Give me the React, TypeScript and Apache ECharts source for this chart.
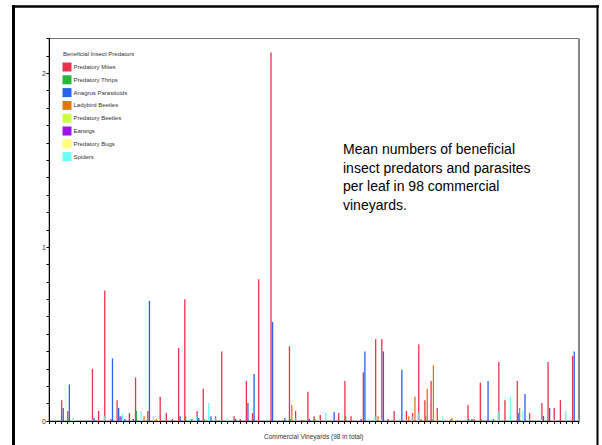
import React, { useEffect, useRef } from 'react';
import * as echarts from 'echarts';

const categories: string[] = Array.from({ length: 86 }, (_, i) => `V${i + 1}`);

const seriesNames = [
  'Predatory Mites',
  'Predatory Thrips',
  'Anagrus Parasitoids',
  'Ladybird Beetles',
  'Predatory Beetles',
  'Earwigs',
  'Predatory Bugs',
  'Spiders',
];

const seriesColors = ['#EE2F4A', '#22B838', '#2463EE', '#E07810', '#C8FF40', '#A010F0', '#FFFF78', '#6CFFF4'];

const predatoryMites = [
  0, 0, 0.12, 0.058, 0, 0, 0, 0.30, 0.058, 0.75,
  0.012, 0.12, 0, 0.046, 0.25, 0, 0.058, 0, 0.14, 0.046,
  0.012, 0.42, 0.70, 0, 0.058, 0.185, 0, 0.027, 0.40, 0,
  0.027, 0.012, 0.23, 0.046, 0.815, 0, 2.12, 0, 0, 0.43,
  0.058, 0.006, 0.168, 0.027, 0.035, 0, 0, 0.046, 0.23, 0.027,
  0, 0.28, 0, 0.47, 0.47, 0.012, 0.058, 0, 0.058, 0.046,
  0.44, 0.12, 0.23, 0.075, 0, 0, 0, 0, 0.092, 0.012,
  0.22, 0, 0, 0.34, 0.12, 0, 0.23, 0, 0.046, 0,
  0.104, 0.34, 0.075, 0.12, 0, 0.375,
];

const predatoryThrips = [
  0, 0, 0, 0.008, 0, 0, 0, 0, 0, 0,
  0, 0, 0, 0, 0.058, 0, 0, 0, 0, 0,
  0, 0, 0.027, 0.012, 0, 0.012, 0, 0, 0, 0,
  0, 0, 0, 0.012, 0, 0, 0.012, 0, 0, 0.012,
  0, 0, 0, 0.012, 0, 0, 0, 0, 0.027, 0,
  0, 0, 0, 0, 0, 0, 0, 0, 0, 0,
  0, 0.027, 0.012, 0, 0, 0, 0, 0, 0.012, 0,
  0.012, 0, 0.012, 0, 0, 0, 0, 0, 0, 0,
  0, 0, 0, 0, 0, 0,
];

const anagrusParasitoids = [
  0, 0, 0.075, 0.21, 0, 0, 0, 0.017, 0, 0,
  0.36, 0.075, 0.012, 0, 0, 0, 0.69, 0, 0, 0,
  0, 0.027, 0, 0, 0.017, 0, 0.027, 0, 0, 0,
  0.012, 0, 0.104, 0.27, 0, 0, 0.57, 0, 0.017, 0,
  0, 0, 0.012, 0, 0, 0, 0.052, 0, 0, 0,
  0, 0.40, 0, 0, 0.40, 0, 0, 0.295, 0, 0,
  0, 0, 0, 0, 0, 0.012, 0, 0, 0, 0,
  0, 0.23, 0, 0, 0, 0, 0.046, 0.156, 0, 0,
  0.029, 0.075, 0, 0, 0, 0.40,
];

const ladybirdBeetles = [
  0, 0, 0, 0, 0, 0, 0, 0, 0, 0,
  0, 0.027, 0, 0, 0, 0.027, 0, 0.012, 0, 0,
  0, 0, 0, 0, 0, 0, 0, 0, 0, 0,
  0, 0, 0, 0, 0, 0, 0, 0, 0, 0.092,
  0, 0.006, 0, 0, 0, 0, 0, 0, 0, 0,
  0, 0, 0, 0.027, 0, 0, 0, 0, 0.027, 0.14,
  0.012, 0.185, 0.32, 0, 0, 0.017, 0, 0, 0, 0,
  0, 0, 0, 0, 0, 0, 0.075, 0, 0, 0,
  0, 0, 0, 0, 0, 0,
];

const predatoryBeetles = [
  0, 0, 0, 0.006, 0, 0, 0, 0, 0, 0,
  0, 0, 0, 0, 0, 0, 0, 0, 0, 0,
  0, 0, 0, 0, 0, 0, 0, 0, 0, 0,
  0, 0, 0, 0, 0, 0, 0, 0, 0, 0,
  0, 0, 0, 0.012, 0, 0, 0, 0, 0, 0,
  0, 0, 0, 0, 0, 0, 0, 0, 0, 0,
  0, 0, 0, 0, 0, 0, 0, 0, 0, 0,
  0, 0, 0, 0, 0, 0, 0, 0, 0, 0,
  0, 0, 0, 0, 0, 0,
];

const earwigs = [
  0, 0, 0, 0, 0, 0, 0, 0, 0, 0,
  0, 0.027, 0, 0.012, 0, 0, 0, 0, 0, 0,
  0, 0, 0, 0, 0, 0, 0, 0, 0, 0,
  0, 0, 0, 0, 0, 0, 0, 0, 0, 0,
  0, 0, 0, 0, 0, 0, 0, 0, 0, 0,
  0.012, 0, 0, 0, 0, 0, 0, 0, 0, 0,
  0, 0, 0, 0, 0, 0, 0, 0, 0.012, 0,
  0, 0, 0, 0, 0, 0, 0, 0, 0, 0,
  0, 0, 0, 0, 0, 0,
];

const predatoryBugs = [
  0, 0, 0, 0, 0, 0, 0, 0, 0, 0,
  0, 0, 0, 0, 0, 0, 0, 0.012, 0, 0,
  0, 0, 0, 0.012, 0, 0, 0, 0, 0, 0,
  0, 0, 0, 0, 0, 0, 0, 0, 0, 0,
  0, 0, 0, 0, 0, 0, 0, 0, 0, 0,
  0, 0, 0, 0, 0, 0, 0, 0, 0, 0,
  0, 0, 0.046, 0, 0.012, 0.012, 0, 0, 0, 0,
  0, 0, 0, 0, 0, 0, 0, 0, 0, 0,
  0, 0, 0, 0, 0, 0,
];

const spiders = [
  0.012, 0, 0, 0.017, 0, 0, 0.012, 0, 0.027, 0,
  0, 0.046, 0, 0, 0.058, 0, 0.027, 0, 0, 0,
  0, 0, 0.012, 0.027, 0, 0.104, 0.017, 0, 0.012, 0,
  0, 0, 0, 0, 0, 0, 0, 0, 0, 0.017,
  0, 0, 0, 0.006, 0.046, 0, 0, 0, 0, 0,
  0, 0.012, 0.027, 0.012, 0, 0, 0.012, 0.012, 0.027, 0.046,
  0, 0, 0, 0.027, 0, 0, 0, 0, 0, 0,
  0, 0.012, 0.058, 0, 0.14, 0, 0.058, 0.012, 0, 0.012,
  0, 0.012, 0, 0.058, 0, 0.012,
];

const seriesData = [
  predatoryMites,
  predatoryThrips,
  anagrusParasitoids,
  ladybirdBeetles,
  predatoryBeetles,
  earwigs,
  predatoryBugs,
  spiders,
];

const yTickLabels = ['0', '1', '2'];

const FONT = "'Liberation Sans', Arial, sans-serif";

export default function App() {
  const ref = useRef<HTMLDivElement>(null);

  useEffect(() => {
    document.body.style.margin = '0';
    const chart = echarts.init(ref.current!, null, { renderer: 'svg' });
    chart.setOption({
      animation: false,
      backgroundColor: '#ffffff',
      textStyle: { fontFamily: FONT },
      grid: {
        left: 49,
        right: 23.5,
        top: 38.5,
        bottom: 23,
        show: true,
        borderColor: '#777',
        borderWidth: 1,
      },
      legend: {
        data: seriesNames,
        orient: 'vertical',
        left: 62.5,
        top: 62.5,
        padding: 0,
        icon: 'rect',
        itemWidth: 9,
        itemHeight: 9,
        itemGap: 3.8,
        selectedMode: false,
        textStyle: { fontSize: 6, color: '#333', fontFamily: FONT, padding: [0, 0, 0, -3] },
      },
      xAxis: {
        type: 'category',
        data: categories,
        name: 'Commercial Vineyards (98 in total)',
        nameLocation: 'middle',
        nameGap: 12,
        nameTextStyle: { fontSize: 6.5, color: '#333', fontFamily: FONT },
        axisLine: { show: true, lineStyle: { color: '#000', width: 1 } },
        axisTick: { show: true, interval: 0, length: 3, lineStyle: { color: '#000', width: 1 } },
        axisLabel: { show: false },
        splitLine: { show: false },
      },
      yAxis: {
        type: 'value',
        min: 0,
        max: 2.2,
        interval: 0.1,
        axisLine: { show: true, lineStyle: { color: '#000', width: 1 } },
        axisTick: { show: true, length: 2.5, lineStyle: { color: '#000', width: 1 } },
        axisLabel: {
          fontSize: 7,
          color: '#333',
          margin: 3,
          fontFamily: FONT,
          formatter: (v: number) => {
            const r = Math.round(v);
            return Math.abs(v - r) < 1e-6 && yTickLabels.includes(String(r)) ? String(r) : '';
          },
        },
        splitLine: { show: false },
      },
      series: seriesNames.map((name, i) => ({
        name,
        type: 'bar',
        data: seriesData[i],
        barWidth: 1.3,
        barGap: '-40%',
        itemStyle: { color: seriesColors[i] },
      })),
      graphic: [
        {
          type: 'line',
          shape: { x1: 13.5, y1: 5, x2: 13.5, y2: 450 },
          style: { stroke: '#000', lineWidth: 3 },
          silent: true,
        },
        {
          type: 'line',
          shape: { x1: 12, y1: 6.5, x2: 599, y2: 6.5 },
          style: { stroke: '#000', lineWidth: 2.5 },
          silent: true,
        },
        {
          type: 'line',
          shape: { x1: 597.5, y1: 5, x2: 597.5, y2: 450 },
          style: { stroke: '#000', lineWidth: 2 },
          silent: true,
        },
        {
          type: 'line',
          shape: { x1: 579, y1: 38.5, x2: 579, y2: 422 },
          style: { stroke: '#888', lineWidth: 2 },
          silent: true,
        },
        {
          type: 'text',
          left: 63,
          top: 51,
          style: { text: 'Beneficial Insect Predators', fontSize: 6, fill: '#333', fontFamily: FONT },
          silent: true,
        },
        {
          type: 'text',
          left: 343,
          top: 140,
          style: {
            text: 'Mean numbers of beneficial\ninsect predators and parasites\nper leaf in 98 commercial\nvineyards.',
            fontSize: 14,
            lineHeight: 18.5,
            fill: '#000',
            fontFamily: FONT,
          },
          silent: true,
        },
      ],
    });
    return () => chart.dispose();
  }, []);

  return <div ref={ref} style={{ width: 602, height: 445 }} />;
}
